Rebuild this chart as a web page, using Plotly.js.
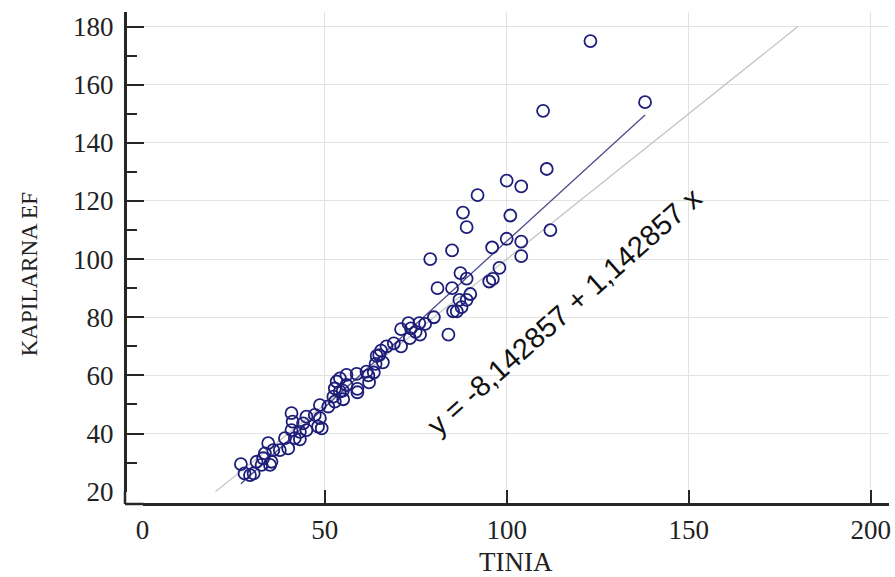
<!DOCTYPE html>
<html>
<head>
<meta charset="utf-8">
<script src="https://cdn.plot.ly/plotly-3.0.1.min.js"></script>
<style>
  html, body { margin: 0; padding: 0; background: #ffffff; }
  #chart { width: 895px; height: 577px; }
</style>
</head>
<body>
<div id="chart"></div>
<script>
// ---- data ----
const tinia = [
  27, 28, 29.5, 30.5, 31.3, 32.7, 33.1, 33.6, 35, 35.4,
  34.5, 35.9, 37.7, 40, 39.1, 41.8, 43.2, 40.9, 43.2, 45,
  41.2, 44.1, 48.2, 49.2, 40.9, 45, 47.3, 48.7, 48.7, 51,
  52.8,
  52.4, 55.1, 52.8, 55, 54.2, 53.3, 56, 54.2, 56, 58.8,
  59, 59, 62, 62.2, 61.5, 63.5, 64, 66, 65, 64.3,
  65.5, 67, 69, 71,
  71, 73.7, 73, 76, 77.6, 75, 76.2, 73.4,
  79, 80, 81, 84, 85, 85, 85.3, 86.3, 87, 87.6,
  87.3, 88, 89, 89, 89, 90, 92, 95.2, 96.2, 96,
  98, 100, 100, 101, 104, 104, 104, 110, 111, 112,
  123, 138
];
const kapilarnaEF = [
  29.5, 26.3, 25.7, 26.3, 30.3, 29.2, 31.5, 33.2, 29.2, 30.3,
  36.7, 34.3, 34.3, 34.9, 38.4, 38.4, 38, 41.2, 40.6, 41.2,
  44.1, 43.5, 42.4, 41.8, 47, 45.8, 46.4, 45.3, 49.8, 49.3,
  51,
  52.7, 51.8, 55.5, 54.8, 54.4, 57.9, 56.7, 59, 60.2, 60.5,
  55.4, 54.2, 60, 57.6, 61.3, 61, 64, 64.5, 67, 66.7,
  68.5, 70, 71, 70,
  75.9, 76.2, 78, 78, 77.7, 75, 74, 72.8,
  100, 80, 90, 74, 90, 103, 82, 82, 86, 83.5,
  95.2, 116, 86, 93.3, 111, 88, 122, 92.3, 93.2, 104,
  97, 107, 127, 115, 106, 101, 125, 151, 131, 110,
  175, 154
];
const intercept = -8.142857;
const slope = 1.142857;
const identityX = [20, 180];
const xTicks = [0, 50, 100, 150, 200];
const yTicks = [20, 40, 60, 80, 100, 120, 140, 160, 180];
const equationText = 'y = -8,142857 + 1,142857 x';
const xTitle = 'TINIA';
const yTitle = 'KAPILARNA EF';

// regression line spans the data's x extent
const xMin = Math.min(...tinia);
const xMax = Math.max(...tinia);
const regX = [xMin, xMax];
const regY = regX.map(v => intercept + slope * v);

const axisColor = '#262626';
const gridColor = '#e2e2e2';
const serif = '"Liberation Serif", "Times New Roman", serif';

const traces = [
  {
    x: identityX, y: identityX, type: 'scatter', mode: 'lines',
    line: { color: '#c4c4c4', width: 1.3 }, hoverinfo: 'skip', showlegend: false
  },
  {
    x: regX, y: regY, type: 'scatter', mode: 'lines',
    line: { color: '#4b4b8c', width: 1.3 }, hoverinfo: 'skip', showlegend: false
  },
  {
    x: tinia, y: kapilarnaEF, type: 'scatter', mode: 'markers',
    marker: { symbol: 'circle-open', size: 12, color: '#1e1e7a', line: { width: 1.8, color: '#1e1e7a' } },
    showlegend: false
  }
];

const layout = {
  width: 895, height: 577,
  margin: { l: 125, r: 6, t: 12, b: 73, pad: 0 },
  paper_bgcolor: '#ffffff', plot_bgcolor: '#ffffff',
  showlegend: false,
  xaxis: {
    range: [0, 205], domain: [0.023, 1], anchor: 'free', position: 0,
    tickmode: 'array', tickvals: xTicks, ticktext: xTicks.map(String),
    ticks: 'inside', ticklen: 13, tickwidth: 2, tickcolor: axisColor,
    showline: true, linecolor: axisColor, linewidth: 2.5,
    showgrid: true, gridcolor: gridColor, gridwidth: 1, zeroline: false,
    tickfont: { family: serif, size: 27, color: '#222' },
    ticklabelstandoff: 1,
    title: { text: xTitle, font: { family: serif, size: 27, color: '#222' }, standoff: 10 }
  },
  yaxis: {
    range: [20, 185], domain: [0.025, 1], anchor: 'free', position: 0,
    tickmode: 'array', tickvals: yTicks, ticktext: yTicks.map(String),
    ticks: 'inside', ticklen: 17, tickwidth: 2, tickcolor: axisColor,
    minor: { tickmode: 'linear', tick0: 0, dtick: 10, ticks: 'inside', ticklen: 10, tickwidth: 2, tickcolor: axisColor, showgrid: false },
    showline: true, linecolor: axisColor, linewidth: 2.5,
    showgrid: true, gridcolor: gridColor, gridwidth: 1, zeroline: false,
    tickfont: { family: serif, size: 27, color: '#222' },
    ticklabelstandoff: 5
  },
  shapes: [
    { type: 'line', xref: 'paper', yref: 'paper', x0: 0, x1: 0, y0: 0, y1: 0.026, line: { color: axisColor, width: 2.5 } },
    { type: 'line', xref: 'paper', yref: 'paper', x0: 0, x1: 0.024, y0: 0, y1: 0, line: { color: axisColor, width: 2.5 } }
  ],
  annotations: [
    {
      x: 116, y: 82, xref: 'x', yref: 'y', text: equationText, showarrow: false,
      textangle: -41.6, xanchor: 'center', yanchor: 'middle',
      font: { family: '"Liberation Sans", Arial, sans-serif', size: 29, color: '#111' }
    },
    {
      x: -0.124, y: 0.4675, xref: 'paper', yref: 'paper', text: yTitle, showarrow: false,
      textangle: -90, xanchor: 'center', yanchor: 'middle',
      font: { family: serif, size: 23, color: '#222' }
    }
  ]
};

Plotly.newPlot('chart', traces, layout, { displayModeBar: false, staticPlot: true });
</script>
</body>
</html>
